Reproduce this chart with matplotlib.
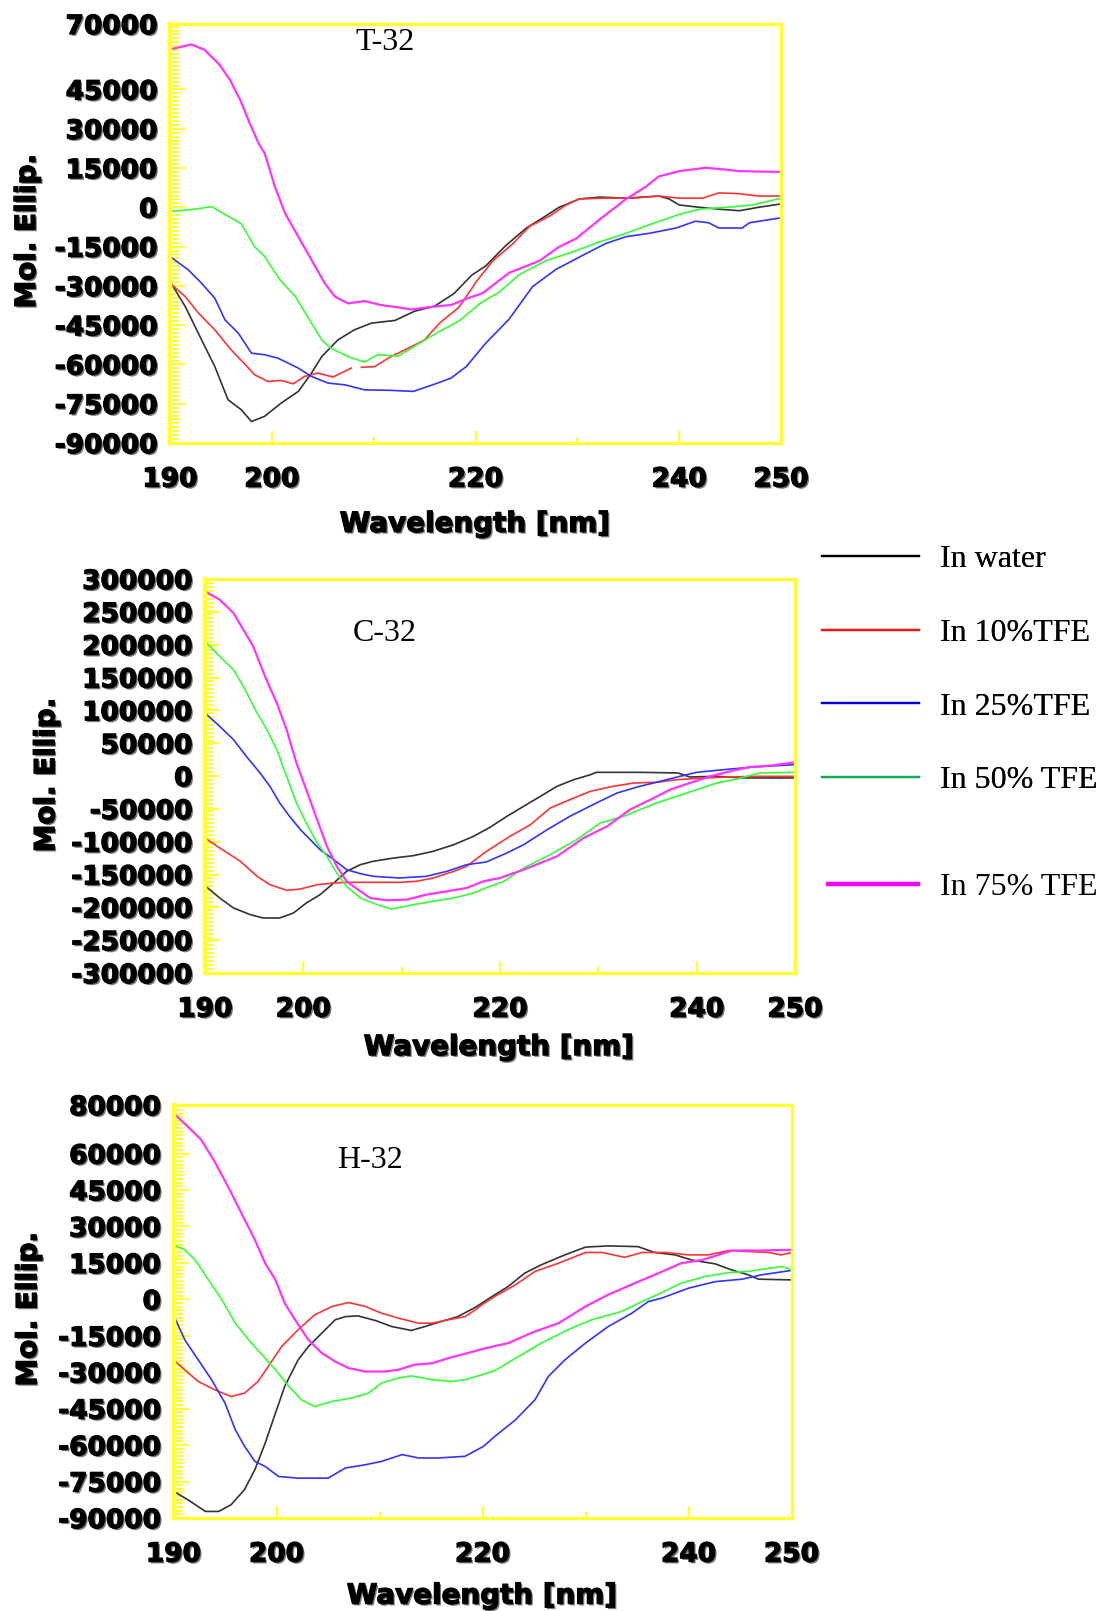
import numpy as np
import matplotlib
matplotlib.use("Agg")
import matplotlib.pyplot as plt
from matplotlib.ticker import FixedLocator, MultipleLocator
from matplotlib.lines import Line2D
import matplotlib.patheffects as pe

# ---------------- data ----------------
series_names = ["In water", "In 10%TFE", "In 25%TFE", "In 50% TFE", "In 75% TFE"]

# T-32
t_water_wl = [190, 191.5, 193.1, 194.4, 195.7, 197.0, 198.0, 199.3, 200.9, 202.6, 203.9, 204.9, 206.5, 208.1, 209.8, 212.1, 214.0, 216.0, 217.9, 219.6, 221.0, 223.0, 225.0, 226.9, 228.2, 230.2, 232.2, 234.8, 238.0, 239.0, 240.0, 242.0, 243.9, 245.9, 247.8, 250]
t_water_v = [-28300, -37900, -50600, -60800, -73500, -77300, -81800, -79800, -74800, -70300, -63300, -57000, -50600, -46800, -44200, -43200, -39700, -37700, -32900, -26000, -22400, -14500, -7900, -3300, 0, 3200, 3900, 3500, 4300, 3200, 900, 0, -700, -1300, 0, 1300]
t_tfe10_wl = [190, 191.5, 192.8, 194.4, 196.0, 197.4, 198.3, 199.6, 200.9, 202.1, 203.2, 204.5, 206.0, 206.8, 207.8, 208.3, 208.8, 210.1, 211.7, 213.4, 215.0, 216.5, 218.4, 220.1, 221.7, 223.7, 225.3, 227.3, 228.9, 230.2, 232.8, 235.4, 238.0, 240.0, 242.3, 243.9, 245.9, 247.8, 250]
t_tfe10_v = [-29000, -34100, -40400, -46800, -54400, -60100, -63900, -66500, -66100, -67400, -64600, -63300, -64800, -63300, -61400, np.nan, -61100, -60800, -57000, -53800, -50600, -44100, -38100, -28300, -20400, -13800, -7300, -3300, 900, 3200, 3500, 3500, 4300, 3500, 3500, 5500, 5200, 4300, 4300]
t_tfe25_wl = [190, 191.8, 193.1, 194.4, 195.4, 196.7, 198.0, 199.3, 200.6, 202.6, 203.9, 205.5, 207.2, 209.1, 211.7, 213.9, 216.0, 217.6, 219.1, 221.0, 223.3, 225.6, 227.9, 230.5, 232.8, 234.8, 237.1, 239.7, 241.6, 242.9, 243.9, 246.2, 246.9, 250]
t_tfe25_v = [-18800, -23900, -29000, -34700, -43000, -48000, -55700, -56300, -57600, -61400, -64600, -67100, -67800, -69700, -69900, -70300, -67500, -65200, -60800, -51900, -42700, -30300, -23700, -18400, -13800, -11200, -9900, -7900, -5300, -5900, -7900, -7900, -5900, -4000]
t_tfe50_wl = [190, 192.5, 194.1, 195.2, 197.0, 198.3, 199.3, 200.8, 202.3, 203.6, 204.9, 205.8, 207.5, 209.1, 210.4, 212.4, 214.5, 216.5, 218.4, 220.4, 222.4, 224.3, 226.9, 229.5, 232.2, 234.8, 237.1, 240.0, 242.0, 244.6, 247.2, 250]
t_tfe50_v = [-1600, -700, 300, -2300, -6300, -15000, -18800, -27700, -34000, -42300, -50600, -53800, -57000, -59100, -56300, -56800, -51900, -47300, -43400, -36800, -32200, -25700, -20400, -17100, -13200, -9900, -6600, -2700, -700, 0, 900, 3500]
t_tfe75_wl = [190, 192.1, 193.4, 194.9, 195.9, 196.9, 197.7, 198.7, 199.3, 200.3, 201.3, 202.6, 203.9, 205.2, 206.2, 207.5, 209.1, 210.7, 212.4, 213.7, 215.7, 217.6, 219.2, 220.7, 223.3, 226.3, 228.2, 229.9, 232.2, 234.8, 236.7, 238.0, 240.0, 242.6, 244.6, 245.9, 250]
t_tfe75_v = [60300, 62200, 60100, 54300, 48600, 41000, 33300, 24400, 20600, 7900, -2300, -11200, -20100, -29000, -34100, -36700, -35800, -37300, -38200, -39000, -38000, -37300, -34800, -32800, -25000, -20400, -15100, -11900, -4600, 3200, 7800, 11800, 13800, 15100, 14400, 13800, 13500]

# C-32
c_water_wl = [190, 191.5, 192.9, 194.6, 195.9, 197.6, 199.0, 200.3, 201.7, 203.1, 204.4, 205.8, 207.1, 209.2, 211.2, 213.2, 215.3, 217.3, 219.0, 220.7, 222.4, 224.1, 225.8, 227.5, 229.2, 229.8, 234.2, 238.1, 239.3, 242.0, 244.7, 250]
c_water_v = [-167000, -185800, -201000, -211100, -216200, -216200, -208600, -193400, -180700, -162900, -145200, -135000, -129900, -124900, -121300, -114700, -104600, -91900, -78000, -61400, -46200, -31000, -15700, -5600, 2000, 5600, 5600, 4600, -1500, -500, -3000, -3000]
c_tfe10_wl = [190, 191.5, 193.6, 195.3, 196.6, 198.3, 199.7, 201.4, 203.1, 204.7, 207.1, 209.8, 211.5, 213.2, 215.3, 216.6, 218.6, 221.0, 223.1, 225.1, 227.1, 229.2, 231.5, 233.6, 235.9, 238.0, 240.7, 243.4, 246.1, 250]
c_tfe10_v = [-94400, -109600, -129900, -152800, -165500, -174100, -172100, -165500, -162900, -161900, -161900, -161900, -160400, -155300, -145200, -137600, -115000, -91900, -74100, -48800, -36000, -23300, -15700, -10700, -9600, -5600, -3000, -1500, -500, -500]
c_tfe25_wl = [190, 191.5, 192.9, 194.2, 195.6, 196.6, 197.6, 198.6, 199.7, 200.7, 201.7, 203.1, 204.4, 205.8, 207.1, 209.8, 212.5, 214.6, 216.6, 218.6, 220.7, 222.4, 224.8, 227.1, 229.8, 231.9, 234.2, 236.3, 238.3, 240.0, 242.7, 245.8, 250]
c_tfe25_v = [95900, 75600, 55300, 30000, 4600, -15700, -41100, -61400, -81700, -96900, -112200, -127400, -142600, -148700, -152800, -155300, -152800, -145200, -135000, -131000, -117200, -104600, -81700, -61400, -41100, -25900, -15700, -8100, -500, 5600, 9600, 13700, 17300]
c_tfe50_wl = [190, 191.5, 192.9, 193.9, 195.3, 196.3, 197.3, 198.3, 199.3, 200.3, 201.4, 202.4, 203.4, 204.4, 205.8, 207.5, 209.0, 211.2, 213.2, 215.3, 217.3, 219.0, 220.4, 222.4, 225.1, 227.8, 230.2, 232.6, 234.2, 235.9, 238.0, 240.0, 242.0, 244.1, 246.4, 250]
c_tfe50_v = [205100, 182200, 161900, 136600, 95900, 70600, 40100, -500, -41100, -71600, -102000, -122300, -147700, -168000, -185800, -195900, -202500, -195900, -190800, -185800, -178200, -168000, -160400, -140100, -119800, -96900, -71600, -61400, -51300, -41100, -30900, -20800, -10700, -4600, 4600, 5600]
c_tfe75_wl = [190, 191.5, 192.9, 193.9, 194.9, 196.1, 197.3, 198.3, 199.3, 200.3, 201.4, 202.4, 203.4, 204.4, 205.8, 206.8, 208.5, 210.5, 212.5, 214.6, 216.6, 218.3, 220.0, 222.4, 225.8, 228.5, 230.9, 233.2, 235.3, 237.3, 239.3, 241.4, 243.4, 245.4, 247.5, 250]
c_tfe75_v = [281200, 268500, 248200, 222800, 197500, 151800, 111200, 70600, 19800, -20800, -66500, -107100, -137600, -160400, -175600, -185800, -189300, -188300, -180700, -175600, -170600, -160400, -155300, -142600, -122300, -94400, -76600, -51300, -36000, -20800, -10700, -500, 7100, 13700, 15700, 20800]

# H-32
h_water_wl = [190, 191.4, 193.1, 194.4, 195.6, 196.9, 197.9, 198.9, 199.9, 200.8, 202.1, 203.1, 204.4, 205.7, 206.7, 207.9, 209.6, 211.2, 213.1, 214.4, 216.0, 217.6, 219.3, 221.2, 222.5, 224.1, 225.7, 228.0, 230.0, 232.2, 235.1, 236.7, 238.7, 240.3, 242.6, 244.2, 245.8, 246.8, 250]
h_water_v = [-79000, -82500, -87300, -87300, -84500, -78300, -70100, -59200, -46800, -35800, -24900, -19400, -13900, -8400, -7100, -6800, -8700, -11200, -12800, -11200, -9100, -7100, -3300, 1900, 5300, 10800, 14200, 18300, 21500, 22000, 21700, 19300, 18300, 16200, 14600, 12100, 10100, 8300, 8000]
h_tfe10_wl = [190, 191.1, 192.4, 194.0, 195.6, 196.9, 198.2, 199.2, 200.5, 202.1, 203.7, 205.4, 207.0, 208.6, 210.2, 211.8, 213.8, 215.1, 216.7, 218.3, 219.3, 220.1, 221.2, 223.2, 225.1, 227.4, 230.0, 231.6, 233.8, 235.5, 237.7, 240.0, 241.9, 243.9, 247.8, 249.0, 250]
h_tfe10_v = [-24900, -29000, -33800, -37200, -40000, -38600, -33800, -27600, -19400, -12500, -6400, -2900, -1300, -2900, -5700, -7700, -9800, -9800, -8400, -7100, -4300, -1800, 1200, 6000, 11500, 14900, 19300, 19300, 17300, 19300, 19300, 18300, 18300, 20100, 19300, 18300, 19300]
h_tfe25_wl = [190, 191.1, 192.4, 193.7, 195.0, 196.0, 196.9, 197.9, 198.9, 200.2, 202.1, 205.0, 206.7, 208.6, 210.2, 212.2, 213.8, 215.7, 218.3, 220.1, 221.2, 223.2, 225.1, 226.4, 228.0, 230.0, 232.2, 234.5, 236.1, 237.4, 240.0, 242.6, 245.2, 247.1, 250]
h_tfe25_v = [-6400, -16700, -24900, -33100, -42700, -53700, -60500, -66700, -68800, -72900, -73600, -73600, -69400, -68100, -66700, -63900, -65300, -65300, -64600, -60500, -56400, -49600, -41300, -31700, -24900, -18000, -11200, -5700, -900, 500, 4600, 7300, 8300, 10100, 11900]
h_tfe50_wl = [190, 191.1, 192.1, 193.4, 194.7, 196.0, 197.3, 198.6, 199.9, 201.2, 202.4, 203.7, 205.4, 207.3, 208.9, 210.2, 211.8, 213.1, 215.1, 217.0, 218.3, 220.1, 221.2, 223.5, 225.7, 228.3, 230.6, 233.5, 235.5, 237.4, 239.3, 241.6, 243.9, 245.8, 247.8, 249.1, 250]
h_tfe50_v = [22400, 20400, 16200, 8000, -200, -9800, -16700, -22800, -29000, -35800, -41300, -44100, -42000, -40600, -38600, -34500, -32400, -31500, -33100, -33800, -33100, -30800, -29300, -23500, -18000, -12500, -8400, -5000, -900, 2800, 6700, 9400, 11000, 11500, 12800, 13500, 12100]
h_tfe75_wl = [190, 191.4, 192.7, 194.0, 195.3, 196.6, 197.9, 198.9, 199.9, 200.8, 201.8, 203.1, 204.4, 205.7, 207.0, 208.6, 210.5, 211.8, 213.4, 215.1, 216.7, 218.3, 220.1, 222.5, 225.1, 227.4, 230.0, 232.2, 234.8, 237.1, 239.3, 241.3, 242.9, 244.2, 246.8, 250]
h_tfe75_v = [76600, 71100, 65600, 56700, 46400, 35400, 24500, 14900, 8000, -1600, -8400, -16700, -22100, -25600, -28300, -29700, -29700, -29000, -26900, -26300, -24200, -22400, -20300, -18000, -13200, -9800, -2900, 1900, 6700, 10800, 14900, 16200, 18300, 20100, 20100, 20400]

panel_titles = ["T-32", "C-32", "H-32"]
x_ticks = [190, 200, 220, 240, 250]
x_minor = [210, 230]
t_yticks = [70000, 45000, 30000, 15000, 0, -15000, -30000, -45000, -60000, -75000, -90000]
c_yticks = [300000, 250000, 200000, 150000, 100000, 50000, 0, -50000, -100000, -150000, -200000, -250000, -300000]
h_yticks = [80000, 60000, 45000, 30000, 15000, 0, -15000, -30000, -45000, -60000, -75000, -90000]
t_ylim = (-90000, 70000)
c_ylim = (-300000, 300000)
h_ylim = (-90000, 80000)

# ---------------- styling ----------------
W, H, DPI = 1104, 1611, 100
YEL = "#ffff33"
line_colors = ["#333333", "#ff3333", "#3333ff", "#33ff33", "#ff33ff"]
legend_colors = ["#000000", "#ff1010", "#0000dd", "#00b050", "#ff00ff"]
SERIF = ["Liberation Serif", "DejaVu Serif"]
heavy = [pe.withSimplePatchShadow(offset=(1.3, -1.3), shadow_rgbFace="#7a7a7a", alpha=1.0),
         pe.Stroke(linewidth=0.9, foreground="black"), pe.Normal()]

fig = plt.figure(figsize=(W / DPI, H / DPI), dpi=DPI)


def px_rect(l, r, t, b):
    return [l / W, 1 - b / H, (r - l) / W, (b - t) / H]


def make_panel(rect, data, yticks, ylim, yminor, title, title_xy, xlabel_xy, ylabel_xy):
    ax = fig.add_axes(rect)
    for (wl, v), col in zip(data, line_colors):
        lw = 1.6 if col == "#ff33ff" else 1.2
        ax.plot(wl, v, color=col, lw=lw, solid_joinstyle="round")
    ax.set_xlim(190, 250)
    ax.set_ylim(*ylim)
    for s in ax.spines.values():
        s.set_color(YEL)
        s.set_linewidth(2.4)
    ax.spines["left"].set_linewidth(3.2)
    ax.xaxis.set_major_locator(FixedLocator(x_ticks))
    ax.xaxis.set_minor_locator(FixedLocator(x_minor))
    ax.set_xticklabels([str(t) for t in x_ticks])
    ax.yaxis.set_major_locator(FixedLocator(yticks))
    ax.yaxis.set_minor_locator(MultipleLocator(yminor))
    ax.set_yticklabels([str(t) for t in yticks])
    ax.tick_params(axis="x", which="major", direction="in", length=9, width=1.6,
                   color=YEL, pad=17, labelsize=19)
    ax.tick_params(axis="x", which="minor", direction="in", length=4, width=1.6, color=YEL)
    ax.tick_params(axis="y", which="major", direction="in", length=11, width=1.6,
                   color=YEL, pad=9, labelsize=19)
    ax.tick_params(axis="y", which="minor", direction="in", length=6.5, width=1.4, color=YEL)
    for lbl in ax.get_xticklabels() + ax.get_yticklabels():
        lbl.set_fontweight("bold")
        lbl.set_family("DejaVu Sans")
        lbl.set_path_effects(heavy)
    ax.set_xlabel("Wavelength [nm]", fontsize=20, fontweight="bold", va="center",
                  path_effects=heavy)
    ax.xaxis.set_label_coords(*xlabel_xy)
    ax.set_ylabel("Mol. Ellip.", fontsize=20, fontweight="bold", va="center",
                  path_effects=heavy)
    ax.yaxis.set_label_coords(*ylabel_xy)
    ax.text(title_xy[0], title_xy[1], title, transform=ax.transAxes, ha="center",
            va="center", fontsize=23, family=SERIF)
    return ax


t_data = [(t_water_wl, t_water_v), (t_tfe10_wl, t_tfe10_v), (t_tfe25_wl, t_tfe25_v),
          (t_tfe50_wl, t_tfe50_v), (t_tfe75_wl, t_tfe75_v)]
c_data = [(c_water_wl, c_water_v), (c_tfe10_wl, c_tfe10_v), (c_tfe25_wl, c_tfe25_v),
          (c_tfe50_wl, c_tfe50_v), (c_tfe75_wl, c_tfe75_v)]
h_data = [(h_water_wl, h_water_v), (h_tfe10_wl, h_tfe10_v), (h_tfe25_wl, h_tfe25_v),
          (h_tfe50_wl, h_tfe50_v), (h_tfe75_wl, h_tfe75_v)]

make_panel(px_rect(170, 781, 24, 443), t_data, t_yticks, t_ylim, 1500,
           panel_titles[0], (0.352, 0.957), (0.499, -0.193), (-0.234, 0.506))
make_panel(px_rect(205, 795, 579, 973), c_data, c_yticks, c_ylim, 6000,
           panel_titles[1], (0.305, 0.862), (0.498, -0.188), (-0.269, 0.503))
make_panel(px_rect(173.5, 791.5, 1105, 1518), h_data, h_yticks, h_ylim, 1500,
           panel_titles[2], (0.318, 0.866), (0.499, -0.188), (-0.235, 0.506))

# ---------------- legend ----------------
handles = [Line2D([], [], color=c, lw=1.6) for c in legend_colors[:4]]
leg1 = fig.legend(handles, series_names[:4], loc="center left",
                  bbox_to_anchor=(822 / W, 1 - 670 / H), frameon=False,
                  prop={"family": SERIF, "size": 23}, handlelength=3.04,
                  handletextpad=0.66, labelspacing=1.39, borderpad=0, borderaxespad=0)
h75 = [Line2D([], [], color=legend_colors[4], lw=3.2)]
leg2 = fig.legend(h75, series_names[4:], loc="center left",
                  bbox_to_anchor=(828 / W, 1 - 887 / H), frameon=False,
                  prop={"family": SERIF, "size": 23}, handlelength=2.82,
                  handletextpad=0.69, borderpad=0, borderaxespad=0)
fig.add_artist(leg1)

fig.savefig("out.png", dpi=DPI)
